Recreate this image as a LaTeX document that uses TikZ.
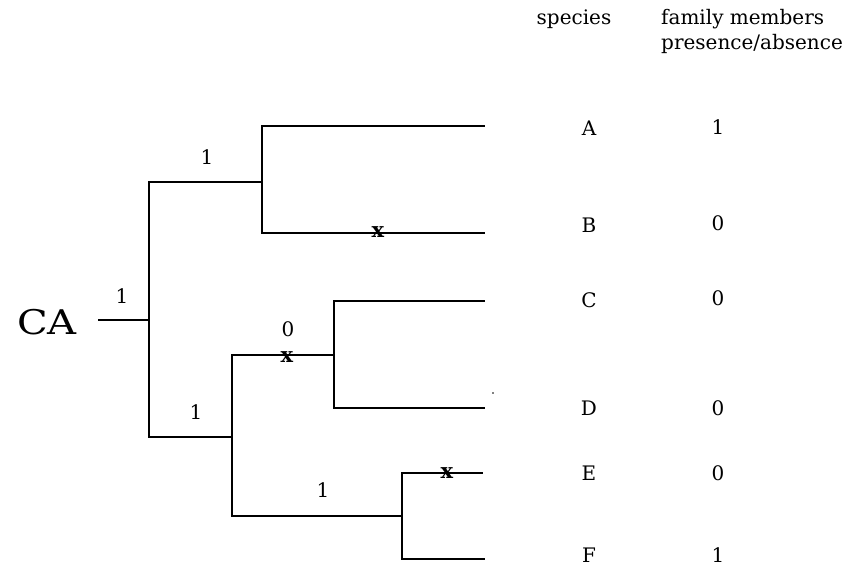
\documentclass[tikz,border=0pt]{standalone}
\usepackage{fontspec}
\setmainfont{DejaVu Serif}
\begin{document}
\begin{tikzpicture}[x=1pt,y=-1pt,
  br/.style={line width=1.4pt, line cap=rect},
  lab/.style={font=\fontsize{20}{22}\selectfont, inner sep=0pt},
  xmark/.style={font=\fontsize{21}{23}\selectfont\bfseries, inner sep=0pt, anchor=base}]
\useasboundingbox (0,0) rectangle (854,566);
% header
\node[lab, anchor=base] (hsp) at (574,24) {species};
\node[lab, anchor=base west] (hfm) at (661,24) {family members};
\node[lab, anchor=base west] (hpa) at (661,49) {presence/absence};
% root
\node[font=\fontsize{34}{36}\selectfont, inner sep=0pt, xscale=1.18] (ca) at (47,322) {CA};
\coordinate (r0) at (99,320);
\coordinate (r1) at (149,320);
\coordinate (rt) at (149,182);
\coordinate (rb) at (149,437);
% AB clade
\coordinate (ab) at (262,182);
\coordinate (abt) at (262,126);
\coordinate (abb) at (262,233);
\coordinate (ea) at (484,126);
\coordinate (eb) at (484,233);
% lower clade
\coordinate (lo) at (232,437);
\coordinate (lot) at (232,355);
\coordinate (lob) at (232,516);
\coordinate (cd) at (334,355);
\coordinate (cdt) at (334,301);
\coordinate (cdb) at (334,408);
\coordinate (ec) at (484,301);
\coordinate (ed) at (484,408);
\coordinate (ef) at (402,516);
\coordinate (eft) at (402,473);
\coordinate (efb) at (402,559);
\coordinate (ee) at (482,473);
\coordinate (eff) at (484,559);
\draw[br] (r0) -- (r1);
\draw[br] (rt) -- (rb);
\draw[br] (rt) -- (ab);
\draw[br] (abt) -- (abb);
\draw[br] (abt) -- (ea);
\draw[br] (abb) -- (eb);
\draw[br] (rb) -- (lo);
\draw[br] (lot) -- (lob);
\draw[br] (lot) -- (cd);
\draw[br] (cdt) -- (cdb);
\draw[br] (cdt) -- (ec);
\draw[br] (cdb) -- (ed);
\draw[br] (lob) -- (ef);
\draw[br] (eft) -- (efb);
\draw[br] (eft) -- (ee);
\draw[br] (efb) -- (eff);
% stray dot
\fill (493,393) circle (0.9);
% branch labels
\node[lab] (l1) at (122,296) {1};
\node[lab] (l2) at (207,157) {1};
\node[lab] (l3) at (196,412) {1};
\node[lab] (l4) at (288,329) {0};
\node[lab] (l5) at (323,490) {1};
% x marks
\node[xmark] (x1) at (378,237) {x};
\node[xmark] (x2) at (287,362) {x};
\node[xmark] (x3) at (447,478) {x};
% species
\node[lab] (sa) at (589,128) {A};
\node[lab] (sb) at (589,225) {B};
\node[lab] (sc) at (589,300) {C};
\node[lab] (sd) at (589,408) {D};
\node[lab] (se) at (589,473) {E};
\node[lab] (sf) at (589,555) {F};
% values
\node[lab] (va) at (718,127) {1};
\node[lab] (vb) at (718,223) {0};
\node[lab] (vc) at (718,298) {0};
\node[lab] (vd) at (718,408) {0};
\node[lab] (ve) at (718,473) {0};
\node[lab] (vf) at (718,555) {1};
\end{tikzpicture}
\end{document}
